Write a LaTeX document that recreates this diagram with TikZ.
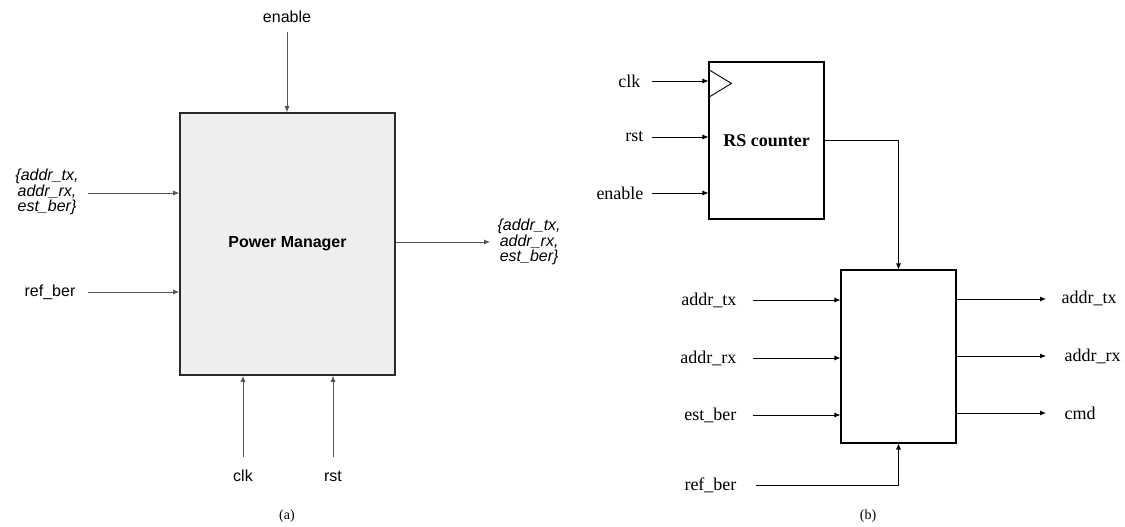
\documentclass[tikz,border=0pt]{standalone}
\usepackage{fontspec}
\setmainfont{Liberation Serif}
\setsansfont{Liberation Sans}
\usetikzlibrary{arrows.meta, positioning, calc}
\definecolor{boxGray}{HTML}{EEEEEE}
\definecolor{wireGray}{HTML}{555555}
\definecolor{edgeDark}{HTML}{2A2A2A}

\begin{document}
\begin{tikzpicture}[x=1pt, y=-1pt,
    wire/.style={-{Latex[length=6pt,width=5pt]}, line width=0.8pt},
    wireA/.style={wire, draw=wireGray},
    lblA/.style={font=\fontsize{16}{19}\selectfont\sffamily},
    busA/.style={font=\fontsize{16}{13.5}\selectfont\sffamily\itshape, align=center},
    lblB/.style={font=\fontsize{18}{21}\selectfont},
    capt/.style={font=\fontsize{14}{17}\selectfont}
]
    \useasboundingbox (0,0) rectangle (1125,527);

    % (a) power manager block
    \node[draw=edgeDark, line width=1.6pt, fill=boxGray, minimum width=215pt, minimum height=262pt,
          font=\fontsize{16}{19}\selectfont\sffamily\bfseries] (pm) at (287.5,244) {Power Manager};

    \node[lblA] (en) at (287,17) {enable};
    \coordinate (enT) at (287,32);
    \draw[wireA] (enT) -- (enT |- pm.north);

    \node[busA] (busIn) at (47,192) {\{addr\_tx,\\addr\_rx,\\est\_ber\}};
    \coordinate (busInT) at (88,193);
    \draw[wireA] (busInT) -- (busInT -| pm.west);

    \node[lblA] (refA) at (50,292) {ref\_ber};
    \coordinate (refAT) at (88,292);
    \draw[wireA] (refAT) -- (refAT -| pm.west);

    \coordinate (busOutH) at (490,242);
    \draw[wireA] (pm.east |- busOutH) -- (busOutH);
    \node[busA, right=4pt of busOutH] (busOut) {\{addr\_tx,\\addr\_rx,\\est\_ber\}};

    \coordinate (clkAT) at (243,457);
    \coordinate (rstAT) at (333,457);
    \draw[wireA] (clkAT) -- (clkAT |- pm.south);
    \draw[wireA] (rstAT) -- (rstAT |- pm.south);
    \node[lblA] (clkA) at (243,476) {clk};
    \node[lblA] (rstA) at (333,476) {rst};

    \node[capt] (capA) at (287,516) {(a)};

    % (b) RS counter and selector
    \node[draw, line width=1.1pt, minimum width=115pt, minimum height=157pt,
          font=\fontsize{18}{21}\selectfont\bfseries] (rs) at (766.5,140.5) {RS counter};
    \draw[line width=0.9pt] ($(rs.north west)+(0,8)$) -- ++(23,14) -- ++(-23,14);

    \node[draw, line width=1.1pt, minimum width=115pt, minimum height=173pt] (sel) at (898.5,356.5) {};

    \coordinate (clkBT) at (652,81);
    \coordinate (rstBT) at (652,137);
    \coordinate (enBT) at (652,193);
    \node[lblB, anchor=east] (clkB) at (644,81) {clk};
    \node[lblB, anchor=east] (rstB) at (647,137) {rst};
    \node[lblB, anchor=east] (enB) at (647,193) {enable};
    \foreach \s in {clkBT, rstBT, enBT}
        \draw[wire] (\s) -- (\s -| rs.west);

    \draw[wire] (rs.east) -| (sel.north);

    \coordinate (txIT) at (753,300);
    \coordinate (rxIT) at (753,358);
    \coordinate (berIT) at (753,415);
    \node[lblB, anchor=east] (txI) at (740,300) {addr\_tx};
    \node[lblB, anchor=east] (rxI) at (740,358) {addr\_rx};
    \node[lblB, anchor=east] (berI) at (740,415) {est\_ber};
    \foreach \s in {txIT, rxIT, berIT}
        \draw[wire] (\s) -- (\s -| sel.west);

    \coordinate (refBT) at (756,485);
    \node[lblB, anchor=east] (refB) at (740,485) {ref\_ber};
    \draw[wire] (refBT) -| (sel.south);

    \coordinate (txOT) at (1046,299);
    \coordinate (rxOT) at (1046,356);
    \coordinate (cmdOT) at (1046,413);
    \foreach \s in {txOT, rxOT, cmdOT}
        \draw[wire] (sel.east |- \s) -- (\s);
    \node[lblB, anchor=west] (txO) at (1058,298) {addr\_tx};
    \node[lblB, anchor=west] (rxO) at (1061,356) {addr\_rx};
    \node[lblB, anchor=west] (cmdO) at (1061,413) {cmd};

    \node[capt] (capB) at (868,516) {(b)};
\end{tikzpicture}
\end{document}
